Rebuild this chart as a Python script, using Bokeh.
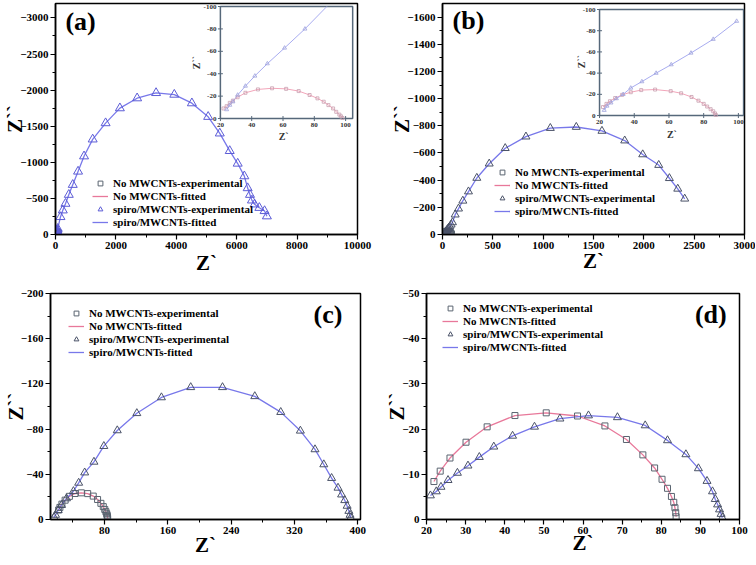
import math
from bokeh.plotting import figure
from bokeh.models import Range1d, FixedTicker, Legend, LegendItem, Label
from bokeh.layouts import row, column
from bokeh.embed import file_html
from bokeh.resources import INLINE
from bokeh.core.properties import value

FONT = "Liberation Serif"

# ---------------- data ----------------
# panel (a) main: spiro/MWCNTs
a_spiro_x = [24, 26, 28, 31, 36, 42, 50, 61, 74, 165, 242, 330, 440, 571, 747, 945, 1231, 1659, 2132, 2703,
             3330, 3934, 4516, 5055, 5440, 5769, 6033, 6253, 6363, 6440, 6505, 6593, 6750, 6923, 7000]
a_spiro_y = [-8, -12, -15, -21, -29, -38, -49, -63, -80, -243, -335, -427, -551, -689, -873, -1084, -1318, -1543, -1750, -1888,
             -1961, -1938, -1819, -1631, -1401, -1158, -983, -808, -643, -551, -473, -418, -370, -326, -253]
# panel (a) inset: no MWCNTs and spiro (low frequency part)
a_nomw_x = [22, 24, 26, 28, 31, 36, 44, 53, 62, 70, 77, 82, 86, 89, 92, 94, 96, 97, 98]
a_nomw_y = [-9, -11, -14, -16, -19, -23, -26, -27, -26.5, -24.5, -21, -18, -15, -12, -9, -6, -3.5, -2, -0.5]
a_in_spiro_x = [24, 26, 28, 31, 36, 42, 50, 61, 74, 88]
a_in_spiro_y = [-8, -12, -15, -21, -29, -38, -49, -63, -80, -100]
a_in_spiro_pts = 9  # markers drawn for the first 9 points

# panel (b)
b_spiro_x = [22.7, 24.3, 26.6, 29.7, 33.6, 38, 44.4, 52.6, 61.3, 72.7, 85.5, 99, 126, 159, 202, 258, 341, 464, 623,
             829, 1071, 1329, 1584, 1810, 1989, 2148, 2254, 2337, 2406]
b_spiro_y = [-5, -9, -12, -16, -20, -26, -32, -40, -48, -59, -72, -89, -146, -190, -248, -316, -416, -521, -635,
             -720, -783, -791, -762, -691, -589, -511, -414, -336, -263]
b_nomw_x = [22, 24, 26, 29, 33, 38, 44, 52, 61, 67, 73, 77, 80, 82, 84, 85.5, 86.5, 87]
b_nomw_y = [-8, -11, -13.5, -16.5, -19.5, -22, -24, -24.5, -23, -21, -17.5, -14, -11, -8.5, -6, -4, -2, -0.5]

# panel (c) spiro
c_spiro_x = [16, 18, 21.3, 25.5, 31.8, 40.6, 47.2, 54.8, 66.5, 79, 96, 120.7, 151.8, 188.8, 229, 269.8, 302.6,
             327.4, 345.9, 357, 366.9, 375, 379.5, 383.5, 386.5, 388.7, 390.2, 391]
c_spiro_y = [-2, -4, -8.2, -12.7, -18.6, -25, -32.4, -41.5, -51, -64.9, -78.8, -94, -108, -117, -117, -109, -95,
             -78.5, -62, -48.7, -36.6, -28, -22, -17, -12, -7.5, -4, -1.5]

# panels (c),(d) no MWCNTs
d_nomw_x = [21.9, 23.5, 26.0, 30.1, 35.5, 42.6, 50.6, 58.6, 65.6, 71.1, 75.3, 78.3, 80.2, 81.6, 82.6, 83.2, 83.5, 83.7, 83.8]
d_nomw_y = [-8.4, -10.7, -13.6, -17.1, -20.5, -23.0, -23.6, -22.9, -20.7, -17.7, -14.3, -11.4, -8.9, -6.9, -5.1, -3.8, -2.6, -1.5, -0.6]
# panel (d) spiro
d_spiro_x = [21.0, 22.5, 23.7, 25.5, 27.9, 30.6, 33.5, 37.2, 42.0, 47.6, 54.1, 61.4, 68.8, 75.9, 81.6, 86.3, 89.5,
             91.7, 93.1, 93.8, 94.4, 94.9, 95.3, 95.6]
d_spiro_y = [-5.3, -6.2, -7.2, -8.7, -10.3, -11.9, -13.8, -16.1, -18.5, -20.5, -22.3, -23.0, -22.6, -20.8, -17.5,
             -14.4, -11.3, -8.5, -6.2, -4.5, -3.3, -2.2, -1.2, -0.4]

# ticks
a_xticks = [0, 2000, 4000, 6000, 8000, 10000]
a_xminor = [1000, 3000, 5000, 7000, 9000]
a_yticks = [0, -500, -1000, -1500, -2000, -2500, -3000]
a_yminor = [-250, -750, -1250, -1750, -2250, -2750]
b_xticks = [0, 500, 1000, 1500, 2000, 2500, 3000]
b_xminor = [250, 750, 1250, 1750, 2250, 2750]
b_yticks = [0, -200, -400, -600, -800, -1000, -1200, -1400, -1600]
b_yminor = [-100, -300, -500, -700, -900, -1100, -1300, -1500]
c_xticks = [80, 160, 240, 320, 400]
c_xminor = [40, 120, 200, 280, 360]
c_yticks = [0, -40, -80, -120, -160, -200]
c_yminor = [-20, -60, -100, -140, -180]
d_xticks = [20, 30, 40, 50, 60, 70, 80, 90, 100]
d_xminor = [25, 35, 45, 55, 65, 75, 85, 95]
d_yticks = [0, -10, -20, -30, -40, -50]
d_yminor = [-5, -15, -25, -35, -45]
inset_xticks = [20, 40, 60, 80, 100]
inset_yticks = [0, -20, -40, -60, -80, -100]

legend_labels = ["No MWCNTs-experimental", "No MWCNTs-fitted",
                 "spiro/MWCNTs-experimental", "spiro/MWCNTs-fitted"]

PINK = "#e8789a"
BLUE = "#7878ea"
SQ = "#5a6470"


def make_fig(w, h, xr, yr, xt, xm, yt, ym, borders, xstand, ystand):
    l, r, t, b = borders
    p = figure(width=w, height=h, x_range=Range1d(*xr), y_range=Range1d(*yr),
               output_backend="svg", toolbar_location=None,
               min_border_left=l, min_border_right=r, min_border_top=t, min_border_bottom=b)
    p.xgrid.visible = False
    p.ygrid.visible = False
    p.outline_line_color = "black"
    p.outline_line_width = 1.5
    p.outline_line_alpha = 1
    p.background_fill_color = "white"
    p.border_fill_color = "white"
    p.xaxis.ticker = FixedTicker(ticks=xt, minor_ticks=xm)
    p.yaxis.ticker = FixedTicker(ticks=yt, minor_ticks=ym)
    for ax in (p.xaxis[0], p.yaxis[0]):
        ax.major_label_text_font = FONT
        ax.major_label_text_font_style = "bold"
        ax.major_label_text_font_size = "11px"
        ax.major_label_text_color = "black"
        ax.axis_label_text_font = FONT
        ax.axis_label_text_font_style = "bold"
        ax.axis_label_text_font_size = "21px"
        ax.axis_label_text_color = "black"
        ax.axis_line_width = 1.5
        ax.major_tick_in = 0
        ax.major_tick_out = 5
        ax.minor_tick_in = 0
        ax.minor_tick_out = 3
        ax.major_tick_line_width = 1.2
        ax.major_label_standoff = 2
    p.xaxis.axis_label = "Z`"
    p.yaxis.axis_label = "Z``"
    p.xaxis.axis_label_standoff = xstand
    p.yaxis.axis_label_standoff = ystand
    return p


def add_series(p, nx, ny, sx, sy, tri_color, tri_size, sq_size, leg_loc):
    r_pl = p.line(nx, ny, line_color=PINK, line_width=1.3)
    r_bl = p.line(sx, sy, line_color=BLUE, line_width=1.3)
    r_sq = p.scatter(nx, ny, marker="square", size=sq_size, fill_color=None, line_color=SQ, line_width=1)
    r_tr = p.scatter(sx, sy, marker="triangle", size=tri_size, fill_color=None, line_color=tri_color, line_width=1)
    leg = Legend(items=[LegendItem(label=legend_labels[0], renderers=[r_sq]),
                        LegendItem(label=legend_labels[1], renderers=[r_pl]),
                        LegendItem(label=legend_labels[2], renderers=[r_tr]),
                        LegendItem(label=legend_labels[3], renderers=[r_bl])],
                 location=leg_loc)
    leg.label_text_font = FONT
    leg.label_text_font_style = "bold"
    leg.label_text_font_size = "11px"
    leg.label_text_color = "black"
    leg.border_line_alpha = 0
    leg.background_fill_alpha = 0
    leg.padding = 0
    leg.margin = 0
    leg.spacing = 1
    leg.glyph_width = 16
    leg.glyph_height = 12
    leg.label_height = 12
    leg.label_standoff = 5
    p.add_layout(leg)


def add_inset(p, name, frac, xr_in, yr_in, nx, ny, sx, sy, n_tri, zx_pos, zy_pos):
    fx0, fx1, fy0, fy1 = frac
    xa, xb = xr_in
    ya, yb = yr_in
    sxs = (xb - xa) / (fx1 - fx0)
    sys_ = (yb - ya) / (fy1 - fy0)
    p.extra_x_ranges = {name: Range1d(xa - fx0 * sxs, xb + (1 - fx1) * sxs)}
    p.extra_y_ranges = {name: Range1d(ya - fy0 * sys_, yb + (1 - fy1) * sys_)}
    kw = dict(x_range_name=name, y_range_name=name)
    p.quad(left=[xa], right=[xb], bottom=[ya], top=[yb], fill_color="white",
           line_color="#56687a", line_width=1.5, **kw)
    tc = "#56687a"
    p.scatter(x=inset_xticks, y=[ya] * len(inset_xticks), marker="dash", angle=math.pi / 2,
              size=5, line_color=tc, line_width=1, **kw)
    p.scatter(x=[xa] * len(inset_yticks), y=inset_yticks, marker="dash",
              size=5, line_color=tc, line_width=1, **kw)
    p.text(x=inset_xticks, y=[ya] * len(inset_xticks), text=[str(t) for t in inset_xticks],
           text_align="center", text_baseline="top", y_offset=4,
           text_font=value(FONT), text_font_style="bold", text_font_size="7px", text_color="#333333", **kw)
    p.text(x=[xa] * len(inset_yticks), y=inset_yticks, text=[str(t) for t in inset_yticks],
           text_align="right", text_baseline="middle", x_offset=-4,
           text_font=value(FONT), text_font_style="bold", text_font_size="7px", text_color="#333333", **kw)
    p.text(x=[zx_pos[0]], y=[zx_pos[1]], text=["Z`"], text_align="center", text_baseline="middle",
           text_font=value(FONT), text_font_style="bold", text_font_size="10px", text_color="#333333", **kw)
    p.text(x=[zy_pos[0]], y=[zy_pos[1]], text=["Z``"], text_align="center", text_baseline="middle",
           angle=math.pi / 2,
           text_font=value(FONT), text_font_style="bold", text_font_size="10px", text_color="#333333", **kw)
    p.line(nx, ny, line_color="#f2a6ba", line_width=1, **kw)
    p.line(sx, sy, line_color="#a8acf0", line_width=1, **kw)
    p.scatter(nx, ny, marker="square", size=3, fill_color=None, line_color="#c8a0b0", line_width=0.8, **kw)
    p.scatter(sx[:n_tri], sy[:n_tri], marker="triangle", size=4, fill_color=None,
              line_color="#9ea2dc", line_width=0.8, **kw)


def panel_label(p, x, y, txt):
    p.add_layout(Label(x=x, y=y, text=txt, text_font=FONT, text_font_style="bold",
                       text_font_size="26px", text_color="black", text_baseline="bottom"))


# (a)
pa = make_fig(378, 283, (0, 10000), (0, -3200), a_xticks, a_xminor, a_yticks, a_yminor, (53, 21, 3, 49), -1, -10)
add_series(pa, a_nomw_x, a_nomw_y, a_spiro_x, a_spiro_y, "#5c5cd6", 9, 6, (37, 6))
add_inset(pa, "ia", (0.546, 0.984, 0.502, 0.987), (20, 104.5), (0, -100),
          a_nomw_x, a_nomw_y, a_in_spiro_x, a_in_spiro_y, a_in_spiro_pts, (60.4, 16), (5, -50))
panel_label(pa, 330, -2750, "(a)")

# (b)
pb = make_fig(377, 283, (0, 3000), (0, -1700), b_xticks, b_xminor, b_yticks, b_yminor, (64, 11, 3, 47), -3, -10)
add_series(pb, b_nomw_x, b_nomw_y, b_spiro_x, b_spiro_y, "#4a5268", 8, 6, (52, 17))
add_inset(pb, "ib", (0.520, 0.997, 0.515, 0.974), (20, 103), (0, -100),
          b_nomw_x, b_nomw_y, b_spiro_x[:12], b_spiro_y[:12], 12, (61.7, 17.8), (9.4, -51))
panel_label(pb, 100, -1467, "(b)")

# (c)
pc = make_fig(378, 281, (11.6, 403.4), (0, -200), c_xticks, c_xminor, c_yticks, c_yminor, (49, 18, 10, 45), -4, -10)
add_series(pc, d_nomw_x, d_nomw_y, c_spiro_x, c_spiro_y, "#4a5268", 8, 6, (18, 161))
panel_label(pc, 344, -169, "(c)")

# (d)
pd = make_fig(377, 281, (20, 100), (0, -50), d_xticks, d_xminor, d_yticks, d_yminor, (48, 16, 9, 41), -6, -10)
add_series(pd, d_nomw_x, d_nomw_y, d_spiro_x, d_spiro_y, "#4a5268", 8, 6, (16, 166))
panel_label(pd, 88.6, -42.2, "(d)")

layout = column(row(pa, pb), row(pc, pd))

open("out.html", "w").write(file_html(layout, INLINE))
